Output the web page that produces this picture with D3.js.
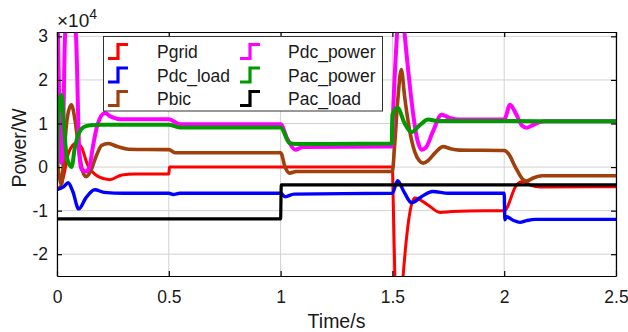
<!DOCTYPE html>
<html>
<head>
<meta charset="utf-8">
<script src="https://cdn.jsdelivr.net/npm/d3@7"></script>
<style>
  html, body { margin: 0; padding: 0; background: #fff; }
  svg { display: block; font-family: "Liberation Sans", Arial, sans-serif; }
</style>
</head>
<body>
<svg id="chart" width="628" height="332"></svg>
<script>
// Power flows (units of 1e4 W) against time (s); each series is [time, value] pairs.
const seriesNames = ["Pgrid", "Pdc_load", "Pbic", "Pdc_power", "Pac_power", "Pac_load"];
const seriesColors = ["#ff0000", "#0000ff", "#a0400c", "#ff00ff", "#009900", "#000000"];

const pgrid = [
  [0, -0.5], [0.015, -0.45], [0.03, -0.2], [0.05, 0.3], [0.07, 0.5], [0.09, 0.56],
  [0.11, 0.45], [0.137, 0.05], [0.16, -0.12], [0.185, -0.22], [0.236, -0.29],
  [0.29, -0.18], [0.35, -0.16], [0.5, -0.16], [0.503, 0.0], [1.5, 0.0],
  [1.503, -0.6], [1.511, -2.5], [1.522, -3.3], [1.537, -3.3], [1.548, -2.5],
  [1.6, -0.71], [1.659, -0.87], [1.713, -1.04], [1.765, -1.02], [1.914, -1.0],
  [2.0, -1.0], [2.055, -0.41], [2.084, -0.33], [2.12, -0.42], [2.16, -0.46], [2.5, -0.45]
];
const pdcLoad = [
  [0, -0.52], [0.03, -0.45], [0.05, -0.36], [0.07, -0.55], [0.097, -0.96],
  [0.13, -0.7], [0.169, -0.52], [0.21, -0.58], [0.3, -0.6], [0.5, -0.6],
  [0.52, -0.63], [0.55, -0.6], [1.0, -0.6], [1.02, -0.68], [1.06, -0.62],
  [1.5, -0.6], [1.523, -0.31], [1.55, -0.55], [1.586, -0.82], [1.63, -0.68],
  [1.68, -0.56], [1.75, -0.6], [2.0, -0.6], [2.003, -1.21], [2.01, -1.14],
  [2.04, -1.22], [2.07, -1.27], [2.1, -1.23], [2.14, -1.2], [2.5, -1.2]
];
const pbic = [
  [0, 0.2], [0.01, -0.2], [0.02, -0.4], [0.03, 0.2], [0.045, 1.1], [0.064, 1.43],
  [0.08, 1.1], [0.1, 0.3], [0.115, -0.1], [0.13, -0.22], [0.15, -0.1],
  [0.175, 0.25], [0.2, 0.5], [0.23, 0.54], [0.27, 0.47], [0.32, 0.41],
  [0.5, 0.4], [0.53, 0.33], [1.0, 0.33], [1.02, 0.0], [1.04, -0.14],
  [1.07, -0.1], [1.5, -0.1], [1.51, 0.5], [1.525, 1.6], [1.54, 2.24],
  [1.555, 1.6], [1.575, 0.9], [1.6, 0.35], [1.62, 0.15], [1.638, 0.09],
  [1.66, 0.15], [1.69, 0.32], [1.727, 0.47], [1.76, 0.42], [1.8, 0.39],
  [2.0, 0.38], [2.02, 0.3], [2.05, 0.0], [2.085, -0.29], [2.1, -0.32],
  [2.13, -0.25], [2.17, -0.2], [2.5, -0.2]
];
const pdcPower = [
  [0, 0], [0.002, 3.6], [0.008, 2.0], [0.018, 0.1], [0.025, 0.3], [0.036, 3.0],
  [0.06, 4.0], [0.085, 3.0], [0.1, 0.3], [0.11, -0.05], [0.13, -0.1],
  [0.145, 0.0], [0.16, 0.45], [0.18, 0.95], [0.214, 1.24], [0.24, 1.16],
  [0.28, 1.1], [0.5, 1.1], [0.55, 0.98], [1.0, 0.98], [1.03, 0.65],
  [1.065, 0.4], [1.1, 0.46], [1.497, 0.47], [1.505, 1.5], [1.52, 3.0],
  [1.535, 4.2], [1.552, 3.2], [1.615, 0.56], [1.63, 0.4], [1.65, 0.45],
  [1.68, 0.8], [1.72, 1.2], [1.76, 1.12], [1.8, 1.09], [2.0, 1.09],
  [2.026, 1.43], [2.05, 1.25], [2.08, 0.95], [2.1, 0.9], [2.13, 0.97],
  [2.18, 1.05], [2.5, 1.05]
];
const pacPower = [
  [0, 0], [0.005, 1.2], [0.02, 1.66], [0.03, 1.0], [0.045, 0.2], [0.065, 0.0],
  [0.08, 0.45], [0.1, 0.8], [0.12, 0.92], [0.15, 0.96], [0.2, 0.97],
  [0.5, 0.97], [0.55, 0.91], [1.0, 0.91], [1.04, 0.55], [1.07, 0.53],
  [1.497, 0.54], [1.5, 1.2], [1.523, 1.36], [1.555, 1.0], [1.586, 0.8],
  [1.62, 0.95], [1.66, 1.09], [1.7, 1.06], [2.5, 1.05]
];
const pacLoad = [
  [0, -1.19], [1.0, -1.19], [1.003, -0.41], [2.5, -0.41]
];
const seriesData = [pgrid, pdcLoad, pbic, pdcPower, pacPower, pacLoad];
const seriesWidths = [3, 3.4, 3.6, 4, 4, 3.2];

const xTicks = [0, 0.5, 1, 1.5, 2, 2.5];
const yTicks = [-2, -1, 0, 1, 2, 3];
const xTickLabels = ["0", "0.5", "1", "1.5", "2", "2.5"];
const yTickLabels = ["-2", "-1", "0", "1", "2", "3"];

const svg = d3.select("#chart");
const m = { left: 57, top: 32, right: 616, bottom: 276 };
const x = d3.scaleLinear().domain([0, 2.5]).range([m.left, m.right]);
const y = d3.scaleLinear().domain([-2.5, 3.1]).range([m.bottom, m.top]);

svg.append("defs").append("clipPath").attr("id", "plot-clip")
  .append("rect").attr("x", m.left).attr("y", m.top)
  .attr("width", m.right - m.left).attr("height", m.bottom - m.top);

// grid
const grid = svg.append("g").attr("stroke", "#d2d2d2").attr("stroke-width", 1);
xTicks.forEach(t => grid.append("line")
  .attr("x1", x(t)).attr("x2", x(t)).attr("y1", m.top).attr("y2", m.bottom));
yTicks.forEach(t => grid.append("line")
  .attr("x1", m.left).attr("x2", m.right).attr("y1", y(t)).attr("y2", y(t)));

// series
const line = d3.line().x(d => x(d[0])).y(d => y(d[1])).curve(d3.curveMonotoneX);
const plot = svg.append("g").attr("clip-path", "url(#plot-clip)");
seriesData.forEach((s, i) => {
  plot.append("path").datum(s)
    .attr("fill", "none")
    .attr("stroke", seriesColors[i])
    .attr("stroke-width", seriesWidths[i])
    .attr("stroke-linejoin", "round")
    .attr("d", line);
});

// axes (box with inward ticks)
const axBottom = d3.axisBottom(x).tickValues(xTicks).tickSizeInner(-5).tickSizeOuter(0)
  .tickPadding(15).tickFormat((d, i) => xTickLabels[i]);
const axLeft = d3.axisLeft(y).tickValues(yTicks).tickSizeInner(-5).tickSizeOuter(0)
  .tickPadding(9).tickFormat((d, i) => yTickLabels[i]);
const axTop = d3.axisTop(x).tickValues(xTicks).tickSizeInner(-5).tickSizeOuter(0).tickFormat("");
const axRight = d3.axisRight(y).tickValues(yTicks).tickSizeInner(-5).tickSizeOuter(0).tickFormat("");

function styleAxis(g) {
  g.select(".domain").attr("stroke", "#000").attr("stroke-width", 1.2);
  g.selectAll(".tick line").attr("stroke", "#000").attr("stroke-width", 1.2);
  g.selectAll(".tick text").attr("fill", "#1a1a1a").style("font-size", "17.5px")
    .style("font-family", "'Liberation Sans', Arial, sans-serif");
}
svg.append("g").attr("transform", `translate(0,${m.bottom})`).call(axBottom).call(styleAxis);
svg.append("g").attr("transform", `translate(${m.left},0)`).call(axLeft).call(styleAxis);
svg.append("g").attr("transform", `translate(0,${m.top})`).call(axTop).call(styleAxis);
svg.append("g").attr("transform", `translate(${m.right},0)`).call(axRight).call(styleAxis);

// exponent marker
const expo = svg.append("text").attr("x", 57).attr("y", 27)
  .attr("fill", "#1a1a1a").style("font-size", "19px");
expo.append("tspan").text("\u00d710");
expo.append("tspan").attr("dy", -8).style("font-size", "14px").text("4");

// axis titles
svg.append("text").attr("x", (m.left + m.right) / 2).attr("y", 328)
  .attr("text-anchor", "middle").attr("fill", "#1a1a1a").style("font-size", "19.5px")
  .text("Time/s");
svg.append("text").attr("transform", `translate(26,148) rotate(-90)`)
  .attr("text-anchor", "middle").attr("fill", "#1a1a1a").style("font-size", "19.5px")
  .text("Power/W");

// legend
const lg = svg.append("g");
lg.append("rect").attr("x", 103.5).attr("y", 36.5).attr("width", 279).attr("height", 74.5)
  .attr("fill", "#fff").attr("stroke", "#333").attr("stroke-width", 1);
const rowY = [51.5, 75, 98.5];
const colIcon = [108, 240];
const colText = [157, 288];
const step = d3.line();
seriesNames.forEach((name, i) => {
  const col = Math.floor(i / 3), row = i % 3;
  const x0 = colIcon[col], cy = rowY[row];
  lg.append("path")
    .attr("d", step([[x0, cy + 7], [x0 + 10, cy + 7], [x0 + 10, cy - 7], [x0 + 20, cy - 7]]))
    .attr("fill", "none").attr("stroke", seriesColors[i]).attr("stroke-width", 3.2);
  lg.append("text").attr("x", colText[col]).attr("y", cy + 6.5)
    .attr("fill", "#1a1a1a").style("font-size", "17.5px").text(name);
});
</script>
</body>
</html>
